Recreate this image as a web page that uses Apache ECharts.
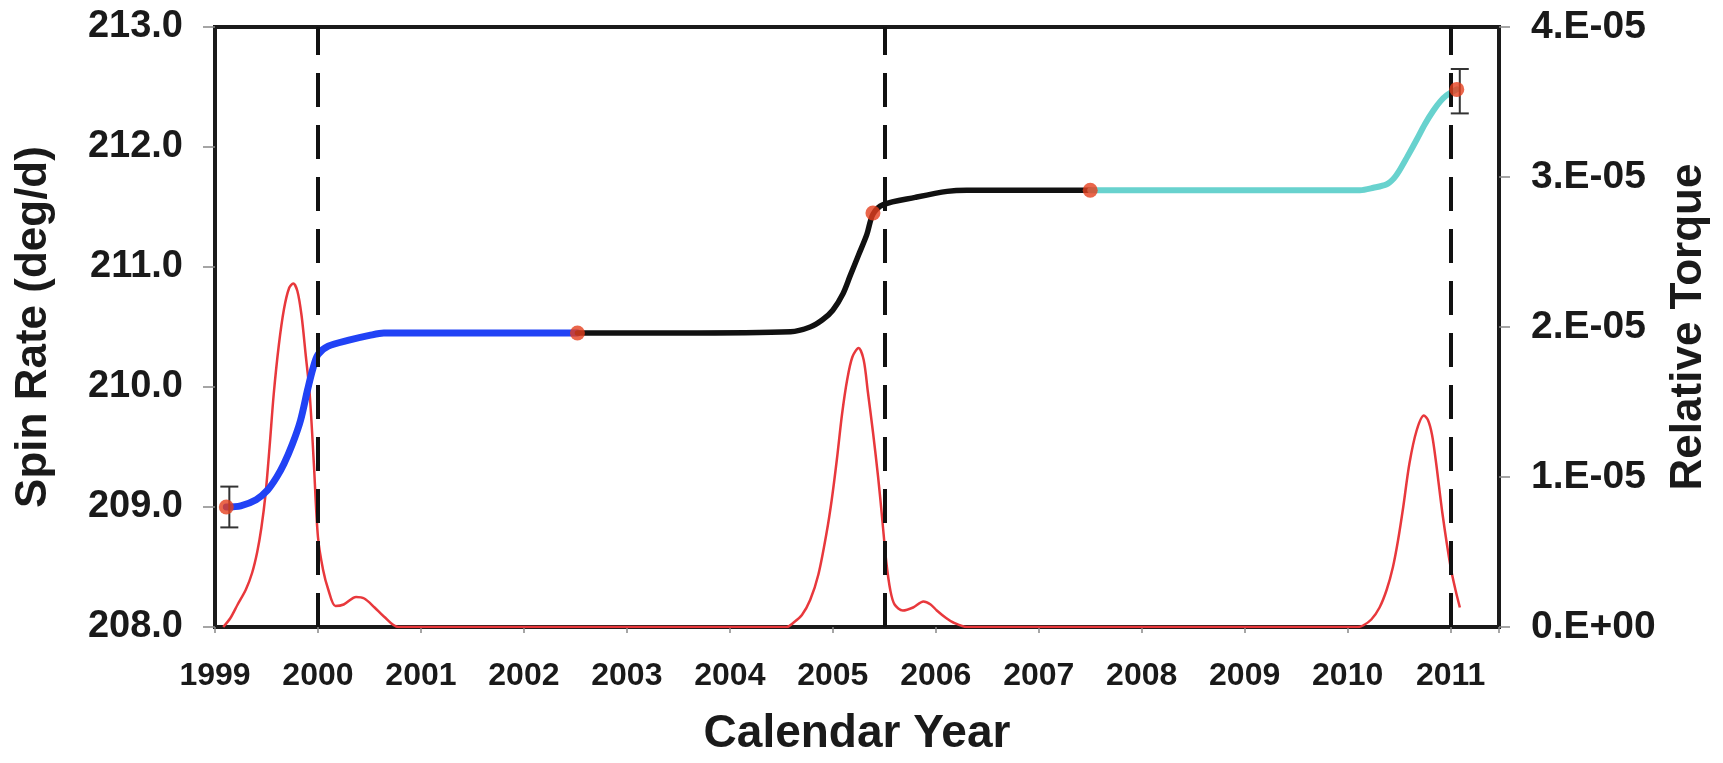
<!DOCTYPE html>
<html><head><meta charset="utf-8">
<script src="https://cdn.jsdelivr.net/npm/echarts@6/dist/echarts.min.js"></script>
<style>html,body{margin:0;padding:0;background:#fff}#c{width:1723px;height:763px}</style>
</head><body><div id="c"></div>
<script>
// Spin-rate segments (deg/d)
const blueYears  = [1999.11,1999.25,1999.40,1999.51,1999.60,1999.67,1999.75,1999.83,1999.90,1999.95,2000.00,2000.10,2000.30,2000.50,2000.64,2001.00,2002.52];
const blueSpin   = [209.00,209.01,209.06,209.14,209.25,209.36,209.52,209.72,209.98,210.15,210.27,210.34,210.39,210.43,210.45,210.45,210.45];
const blackYears = [2002.52,2003.50,2004.59,2004.78,2004.90,2005.00,2005.10,2005.17,2005.25,2005.33,2005.39,2005.49,2005.80,2006.11,2006.30,2007.50];
const blackSpin  = [210.45,210.45,210.46,210.50,210.56,210.64,210.78,210.93,211.10,211.27,211.44,211.52,211.58,211.63,211.64,211.64];
const cyanYears  = [2007.50,2009.00,2010.12,2010.25,2010.38,2010.45,2010.50,2010.58,2010.67,2010.75,2010.83,2010.90,2010.96,2011.06];
const cyanSpin   = [211.64,211.64,211.64,211.66,211.69,211.74,211.80,211.92,212.06,212.19,212.30,212.38,212.43,212.48];
// Observed spin rates with error bars
const obsYears = [1999.11,2002.52,2005.39,2007.50,2011.06];
const obsSpin  = [209.00,210.45,211.45,211.64,212.48];
const errYears = [1999.11,2011.06];
const errLow   = [208.83,212.28];
const errHigh  = [209.17,212.65];
// Relative torque (units of 1E-05)
const torqueYears = [1999.08,1999.15,1999.22,1999.30,1999.36,1999.41,1999.45,1999.49,1999.53,1999.57,1999.62,1999.67,1999.72,1999.76,1999.80,1999.84,1999.88,1999.92,1999.96,2000.00,2000.05,2000.10,2000.17,2000.25,2000.37,2000.45,2000.55,2000.64,2000.78,
  2004.55,2004.62,2004.70,2004.78,2004.86,2004.94,2004.99,2005.04,2005.09,2005.14,2005.19,2005.25,2005.30,2005.34,2005.39,2005.44,2005.48,2005.52,2005.56,2005.60,2005.68,2005.78,2005.88,2005.95,2006.01,2006.10,2006.17,2006.30,
  2010.10,2010.15,2010.23,2010.31,2010.38,2010.44,2010.49,2010.54,2010.60,2010.67,2010.74,2010.78,2010.82,2010.86,2010.92,2011.00,2011.05,2011.09];
const torqueE5 = [0.00,0.06,0.15,0.25,0.36,0.50,0.66,0.88,1.20,1.55,1.88,2.12,2.26,2.29,2.24,2.08,1.82,1.55,1.09,0.60,0.38,0.25,0.14,0.15,0.20,0.19,0.13,0.07,0.00,
  0.00,0.03,0.08,0.18,0.35,0.63,0.85,1.12,1.42,1.65,1.80,1.86,1.78,1.57,1.30,1.00,0.72,0.43,0.24,0.15,0.11,0.13,0.17,0.15,0.11,0.06,0.03,0.00,
  0.00,0.01,0.05,0.13,0.25,0.40,0.58,0.80,1.09,1.31,1.41,1.38,1.28,1.09,0.76,0.40,0.24,0.13];
// Perihelion passages (dashed lines)
const perihelia = [2000.0, 2005.5, 2011.0];

const zip = (xs, ys) => xs.map((x, i) => [x, ys[i]]);
const FONT = '"Liberation Sans", Arial, Helvetica, sans-serif';
const TXT = '#1a1a1a';

const chart = echarts.init(document.getElementById('c'), null, {renderer: 'canvas'});
const spinLine = (name, xs, ys, color, width) => ({
  name, type: 'line', yAxisIndex: 0, data: zip(xs, ys), showSymbol: false, symbol: 'none',
  smooth: 0.3, lineStyle: {color, width, cap: 'round', join: 'round'}, z: 3, silent: true
});

chart.setOption({
  animation: false,
  grid: {left: 215, right: 224, top: 27, bottom: 136, show: true, borderColor: TXT, borderWidth: 4},
  xAxis: {
    type: 'value', min: 1999, max: 2011.47, interval: 1,
    name: 'Calendar Year', nameLocation: 'middle', nameGap: 84,
    nameTextStyle: {fontFamily: FONT, fontWeight: 'bold', fontSize: 46, color: TXT},
    axisLine: {show: true, onZero: false, lineStyle: {color: TXT, width: 4}},
    axisTick: {show: true, length: 6, lineStyle: {color: '#888', width: 1.5}},
    axisLabel: {margin: 33, fontFamily: FONT, fontWeight: 'bold', fontSize: 32, color: TXT,
      formatter: v => Math.abs(v - Math.round(v)) < 1e-6 ? String(Math.round(v)) : ''},
    splitLine: {show: false}
  },
  yAxis: [{
    type: 'value', min: 208, max: 213, interval: 1, position: 'left',
    name: 'Spin Rate (deg/d)', nameLocation: 'middle', nameRotate: 90, nameGap: 159,
    nameTextStyle: {fontFamily: FONT, fontWeight: 'bold', fontSize: 44, color: TXT},
    axisLine: {show: true, lineStyle: {color: TXT, width: 4}},
    axisTick: {show: true, length: 12, lineStyle: {color: '#888', width: 1.5}},
    axisLabel: {margin: 32, fontFamily: FONT, fontWeight: 'bold', fontSize: 38, color: TXT,
      formatter: v => v.toFixed(1)},
    splitLine: {show: false}
  }, {
    type: 'value', min: 0, max: 4e-5, interval: 1e-5, position: 'right',
    name: 'Relative Torque', nameLocation: 'middle', nameRotate: 90, nameGap: 156,
    nameTextStyle: {fontFamily: FONT, fontWeight: 'bold', fontSize: 44, color: TXT},
    axisLine: {show: true, lineStyle: {color: TXT, width: 4}},
    axisTick: {show: true, length: 11, lineStyle: {color: '#888', width: 1.5}},
    axisLabel: {margin: 32, fontFamily: FONT, fontWeight: 'bold', fontSize: 39, color: TXT,
      formatter: v => { const k = Math.round(v * 1e5); return k === 0 ? '0.E+00' : k + '.E-05'; }},
    splitLine: {show: false}
  }],
  series: [
    {
      type: 'line', data: [], silent: true, z: 1,
      markLine: {
        silent: true, symbol: ['none', 'none'], label: {show: false},
        lineStyle: {color: '#111', width: 4, type: [34, 18]},
        data: perihelia.map(x => ({xAxis: x}))
      }
    },
    {
      name: 'torque', type: 'line', yAxisIndex: 1, data: zip(torqueYears, torqueE5.map(v => v * 1e-5)),
      showSymbol: false, symbol: 'none', smooth: 0.3,
      lineStyle: {color: '#e8383c', width: 2.5, join: 'round'}, z: 2, silent: true
    },
    spinLine('blue', blueYears, blueSpin, '#2142f5', 7),
    spinLine('black', blackYears, blackSpin, '#111111', 5.5),
    spinLine('cyan', cyanYears, cyanSpin, '#68d2ce', 6),
    {
      name: 'err', type: 'custom', yAxisIndex: 0, z: 4, silent: true,
      data: errYears.map((x, i) => [x, errLow[i], errHigh[i]]),
      renderItem: (params, api) => {
        const lo = api.coord([api.value(0), api.value(1)]);
        const hi = api.coord([api.value(0), api.value(2)]);
        const x = lo[0] + 3, w = 9;
        const st = {stroke: '#333', lineWidth: 2};
        return {type: 'group', children: [
          {type: 'line', shape: {x1: x, y1: lo[1], x2: x, y2: hi[1]}, style: st},
          {type: 'line', shape: {x1: x - w, y1: lo[1], x2: x + w, y2: lo[1]}, style: st},
          {type: 'line', shape: {x1: x - w, y1: hi[1], x2: x + w, y2: hi[1]}, style: st}
        ]};
      }
    },
    {
      name: 'obs', type: 'scatter', yAxisIndex: 0, data: zip(obsYears, obsSpin),
      symbolSize: 15, itemStyle: {color: '#e5401e'}, z: 6, silent: true
    }
  ]
});
</script>
</body></html>
